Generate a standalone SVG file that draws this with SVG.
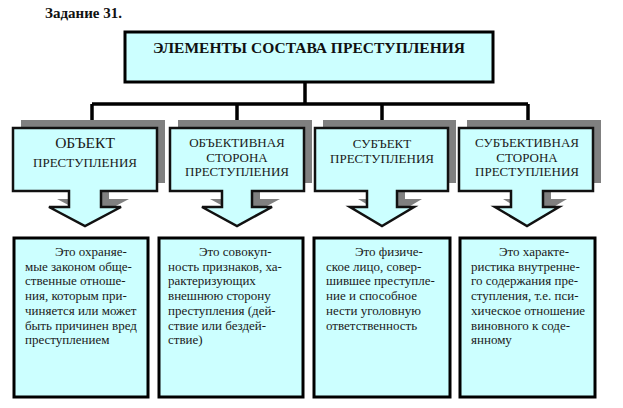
<svg xmlns="http://www.w3.org/2000/svg" width="623" height="408" viewBox="0 0 623 408">
<style>
.bg{fill:#ffffff}
.box{fill:#ccffff;stroke:#000;stroke-width:3}
.call{fill:#ccffff;stroke:#111;stroke-width:2.5;stroke-linejoin:miter}
.shadow{fill:#808080}
.conn{fill:none;stroke:#000;stroke-width:3.5}
.h{font-family:"Liberation Serif","Times New Roman",serif;font-weight:bold;fill:#111}
.t{font-family:"Liberation Serif","Times New Roman",serif;fill:#1a1a1a;text-anchor:middle}
.d{font-family:"Liberation Serif","Times New Roman",serif;fill:#1a1a1a;font-size:13px}
</style>
<rect class="bg" x="0" y="0" width="623" height="408"/>
<text class="h" x="45" y="18" font-size="15">Задание 31.</text>

<g id="connectors">
<path class="conn" d="M305 82 V104"/>
<path class="conn" d="M92 104 H528"/>
<path class="conn" d="M92 104 V122"/>
<path class="conn" d="M237 104 V122"/>
<path class="conn" d="M382 104 V122"/>
<path class="conn" d="M528 104 V122"/>
</g>

<g id="root">
<rect class="box" x="125" y="32" width="368" height="50"/>
<text class="h" x="309" y="53" font-size="15" text-anchor="middle" textLength="312" lengthAdjust="spacingAndGlyphs">ЭЛЕМЕНТЫ СОСТАВА ПРЕСТУПЛЕНИЯ</text>
</g>

<g id="n1">
<path class="shadow" transform="translate(8,-8)" d="M13 128 H157 V191 H101 V207 H121 L85 226 L49 207 H69 V191 H13 Z"/>
<path class="call" d="M13 128 H157 V191 H101 V207 H121 L85 226 L49 207 H69 V191 H13 Z"/>
<text class="t" x="85" y="148" font-size="15.5">ОБЪЕКТ</text>
<text class="t" x="85" y="167" font-size="13">ПРЕСТУПЛЕНИЯ</text>
</g>

<g id="n2">
<path class="shadow" transform="translate(8,-8)" d="M170 128 H304 V191 H252 V207 H272 L237 226 L202 207 H222 V191 H170 Z"/>
<path class="call" d="M170 128 H304 V191 H252 V207 H272 L237 226 L202 207 H222 V191 H170 Z"/>
<text class="t" x="237" y="147" font-size="13">ОБЪЕКТИВНАЯ</text>
<text class="t" x="237" y="161.5" font-size="13">СТОРОНА</text>
<text class="t" x="237" y="176" font-size="13">ПРЕСТУПЛЕНИЯ</text>
</g>

<g id="n3">
<path class="shadow" transform="translate(8,-8)" d="M315 128 H448 V191 H397 V207 H414 L382 226 L350 207 H367 V191 H315 Z"/>
<path class="call" d="M315 128 H448 V191 H397 V207 H414 L382 226 L350 207 H367 V191 H315 Z"/>
<text class="t" x="382" y="148" font-size="13">СУБЪЕКТ</text>
<text class="t" x="382" y="163" font-size="13">ПРЕСТУПЛЕНИЯ</text>
</g>

<g id="n4">
<path class="shadow" transform="translate(8,-8)" d="M459 128 H593 V191 H543 V207 H559 L527 226 L495 207 H511 V191 H459 Z"/>
<path class="call" d="M459 128 H593 V191 H543 V207 H559 L527 226 L495 207 H511 V191 H459 Z"/>
<text class="t" x="527" y="147" font-size="13">СУБЪЕКТИВНАЯ</text>
<text class="t" x="527" y="161.5" font-size="13">СТОРОНА</text>
<text class="t" x="527" y="176" font-size="13">ПРЕСТУПЛЕНИЯ</text>
</g>

<g id="d1">
<rect class="box" x="14" y="238" width="134" height="159"/>
<text class="d" x="25" y="256"><tspan x="55">Это охраняе-</tspan><tspan x="25" dy="14.7">мые законом обще-</tspan><tspan x="25" dy="14.7">ственные отноше-</tspan><tspan x="25" dy="14.7">ния, которым при-</tspan><tspan x="25" dy="14.7">чиняется или может</tspan><tspan x="25" dy="14.7">быть причинен вред</tspan><tspan x="25" dy="14.7">преступлением</tspan></text>
</g>

<g id="d2">
<rect class="box" x="159" y="238" width="144" height="159"/>
<text class="d" x="168" y="256"><tspan x="199">Это совокуп-</tspan><tspan x="168" dy="14.7">ность признаков, ха-</tspan><tspan x="168" dy="14.7">рактеризующих</tspan><tspan x="168" dy="14.7">внешнюю сторону</tspan><tspan x="168" dy="14.7">преступления (дей-</tspan><tspan x="168" dy="14.7">ствие или бездей-</tspan><tspan x="168" dy="14.7">ствие)</tspan></text>
</g>

<g id="d3">
<rect class="box" x="314" y="238" width="136" height="159"/>
<text class="d" x="326" y="256"><tspan x="355">Это физиче-</tspan><tspan x="326" dy="14.7">ское лицо, совер-</tspan><tspan x="326" dy="14.7">шившее преступле-</tspan><tspan x="326" dy="14.7">ние и способное</tspan><tspan x="326" dy="14.7">нести уголовную</tspan><tspan x="326" dy="14.7">ответственность</tspan></text>
</g>

<g id="d4">
<rect class="box" x="460" y="238" width="135" height="159"/>
<text class="d" x="471" y="256"><tspan x="499">Это характе-</tspan><tspan x="471" dy="14.7">ристика внутренне-</tspan><tspan x="471" dy="14.7">го содержания пре-</tspan><tspan x="471" dy="14.7">ступления, т.е. пси-</tspan><tspan x="471" dy="14.7">хическое отношение</tspan><tspan x="471" dy="14.7">виновного к соде-</tspan><tspan x="471" dy="14.7">янному</tspan></text>
</g>
</svg>
